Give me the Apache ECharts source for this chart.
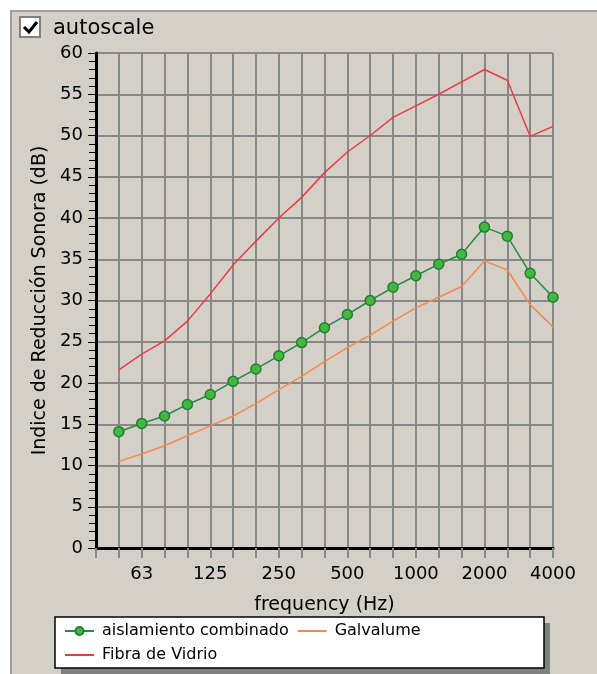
<!DOCTYPE html>
<html>
<head>
<meta charset="utf-8">
<script src="https://cdn.jsdelivr.net/npm/echarts@6/dist/echarts.min.js"></script>
<style>html,body{margin:0;padding:0;background:#fff}#c{width:597px;height:674px}</style>
</head>
<body>
<div id="c"></div>
<script>
const freqs = ['50','63','80','100','125','160','200','250','315','400','500','630','800','1000','1250','1600','2000','2500','3150','4000'];
const tickLabels = ['63','125','250','500','1000','2000','4000'];
const combinado = [14.1,15.1,16.0,17.4,18.6,20.2,21.7,23.3,24.9,26.7,28.3,30.0,31.6,33.0,34.4,35.6,38.9,37.8,33.3,30.4];
const galvalume = [10.5,11.4,12.4,13.6,14.8,16.0,17.5,19.2,20.8,22.6,24.3,25.8,27.5,29.1,30.4,31.7,34.8,33.7,29.5,26.8];
const fibra = [21.6,23.5,25.1,27.5,30.8,34.3,37.2,40.0,42.5,45.5,48.0,50.0,52.2,53.6,55.0,56.5,58.0,56.7,49.9,51.1];
const seriesNames = ['aislamiento combinado','Galvalume','Fibra de Vidrio'];

const toPairs = arr => arr.map((v,i)=>[i,v]);
const FONT = 'DejaVu Sans';

const chart = echarts.init(document.getElementById('c'));
chart.setOption({
  animation: false,
  backgroundColor: '#ffffff',
  graphic: [
    {type:'rect', z:-10, shape:{x:11,y:11,width:590,height:670}, style:{fill:'#d4d0c8', stroke:'#a0a0a0', lineWidth:2}},
    {type:'rect', z:1, shape:{x:20,y:17,width:20,height:20}, style:{fill:'#ffffff', stroke:'#808080', lineWidth:2}},
    {type:'polyline', z:2, shape:{points:[[24,27],[29,32],[37,22]]}, style:{stroke:'#000', lineWidth:3, fill:null}},
    {type:'text', z:2, style:{text:'autoscale', x:53, y:29, fontSize:21, fontFamily:FONT, fill:'#000', verticalAlign:'middle'}},
    {type:'rect', z:1, shape:{x:61,y:623,width:489,height:51}, style:{fill:'#808080'}},
    {type:'rect', z:2, shape:{x:55,y:617,width:489,height:51}, style:{fill:'#ffffff', stroke:'#000', lineWidth:1.5}}
  ],
  legend: {
    left: 64, top: 623, width: 420, padding: 0, itemGap: 8, itemWidth: 29, itemHeight: 10,
    textStyle: {fontSize:16, fontFamily:FONT, color:'#000', padding:[0,0,0,3], lineHeight:16},
    data: [
      {name: seriesNames[0]},
      {name: seriesNames[1], itemStyle:{opacity:0}},
      {name: seriesNames[2], itemStyle:{opacity:0}}
    ]
  },
  grid: {left: 96, right: 44, top: 53, bottom: 126, containLabel: false},
  xAxis: {
    type: 'value', min: -1, max: freqs.length - 1, interval: 1,
    name: 'frequency (Hz)', nameLocation: 'middle', nameGap: 48,
    nameTextStyle: {fontSize:19, fontFamily:FONT, color:'#000'},
    axisLine: {onZero:false, lineStyle:{color:'#000', width:3}},
    axisTick: {show:true, length:10, lineStyle:{color:'#888', width:2}},
    axisLabel: {fontSize:18, fontFamily:FONT, color:'#000', margin:17,
      formatter: v => { const l = freqs[v]; return (l && tickLabels.indexOf(l) >= 0) ? l : ''; }},
    splitLine: {show:true, lineStyle:{color:'#888', width:2}}
  },
  yAxis: {
    type: 'value', min: 0, max: 60, interval: 5,
    name: 'Indice de Reducción Sonora (dB)', nameLocation: 'middle', nameGap: 42,
    nameTextStyle: {fontSize:19, fontFamily:FONT, color:'#000'},
    axisLine: {show:true, onZero:false, lineStyle:{color:'#000', width:3}},
    axisTick: {show:true, length:8, lineStyle:{color:'#000', width:1}},
    minorTick: {show:true, splitNumber:5, length:7, lineStyle:{color:'#000', width:1}},
    axisLabel: {fontSize:18, fontFamily:FONT, color:'#000', margin:13},
    splitLine: {show:true, lineStyle:{color:'#888', width:2}}
  },
  series: [
    {name: seriesNames[0], type:'line', data: toPairs(combinado), symbol:'circle', symbolSize:10,
      lineStyle:{color:'#248a4a', width:1.5}, itemStyle:{color:'#43b83c', borderColor:'#1f7f3a', borderWidth:1.5}, z:5},
    {name: seriesNames[1], type:'line', data: toPairs(galvalume), symbol:'none',
      lineStyle:{color:'#f58a4e', width:1.5}, itemStyle:{color:'#f58a4e'}},
    {name: seriesNames[2], type:'line', data: toPairs(fibra), symbol:'none',
      lineStyle:{color:'#ee3b43', width:1.5}, itemStyle:{color:'#ee3b43'}}
  ]
});
</script>
</body>
</html>
